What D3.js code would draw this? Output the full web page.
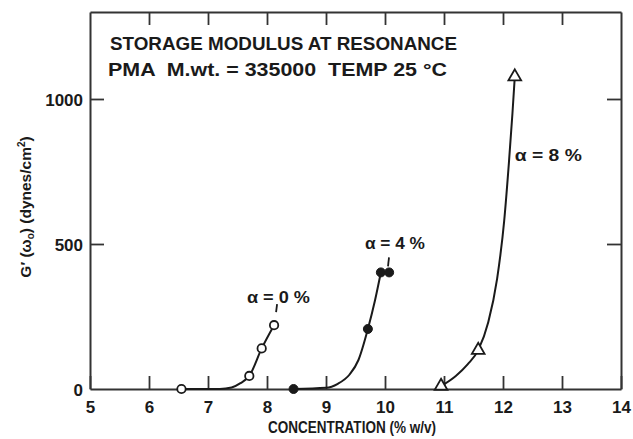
<!DOCTYPE html>
<html><head><meta charset="utf-8">
<script src="https://cdn.jsdelivr.net/npm/d3@7"></script>
<style>
body{margin:0;background:#fff;}
svg{display:block;}
text{font-family:"Liberation Sans",Arial,sans-serif;font-weight:bold;fill:#1a1a1a;}
</style></head>
<body>
<svg id="chart" width="633" height="439"></svg>
<script>
// ---- data ----
const xTicks = [5, 6, 7, 8, 9, 10, 11, 12, 13, 14];
const yTicks = [0, 500, 1000];
const yTicksRight = [500, 1000];

// measured points
const conc0 = [6.55, 7.70, 7.91, 8.12];
const g0    = [0, 45, 140, 220];
const conc4 = [8.45, 9.71, 9.93, 10.07];
const g4    = [0, 207, 402, 402];
const conc8 = [10.95, 11.58, 12.2];
const g8    = [10, 134, 1077];

// hand-drawn curves
const curve0X = [6.55, 7.2, 7.4, 7.55, 7.70, 7.91, 8.12];
const curve0Y = [0, 0, 5, 20, 45, 140, 220];
const curve4X = [8.45, 9.0, 9.2, 9.4, 9.55, 9.71, 9.83, 9.93];
const curve4Y = [0, 4, 18, 50, 100, 207, 305, 402];
const curve8X = [10.95, 11.2, 11.4, 11.58, 11.75, 11.9, 12.02, 12.1, 12.16, 12.2];
const curve8Y = [10, 45, 85, 134, 230, 380, 580, 780, 950, 1077];

const seriesLabels = ["α = 0 %", "α = 4 %", "α = 8 %"];
const labelX = [7.66, 9.66, 12.2];
const labelY = [298, 483, 785];
const titleLines = ["STORAGE MODULUS AT RESONANCE", "PMA  M.wt. = 335000  TEMP 25 °C"];
const xTitle = "CONCENTRATION (% w/v)";

// ---- layout ----
const svg = d3.select("#chart");
const L = 90, R = 621, T = 12, B = 389;
const x = d3.scaleLinear().domain([5, 14]).range([L, R]);
const y = d3.scaleLinear().domain([0, 1300]).range([B, T]);
const ink = "#1a1a1a";

// axes
const gB = svg.append("g").attr("transform", `translate(0,${B})`)
  .call(d3.axisBottom(x).tickValues(xTicks).tickFormat(d3.format("d"))
    .tickSizeInner(-13).tickSizeOuter(0).tickPadding(12));
const gT = svg.append("g").attr("transform", `translate(0,${T})`)
  .call(d3.axisTop(x).tickValues(xTicks.slice(1, -1)).tickFormat("")
    .tickSizeInner(-13).tickSizeOuter(0));
const gL = svg.append("g").attr("transform", `translate(${L},0)`)
  .call(d3.axisLeft(y).tickValues(yTicks).tickFormat(d3.format("d"))
    .tickSizeInner(-14).tickSizeOuter(0).tickPadding(7));
const gR = svg.append("g").attr("transform", `translate(${R},0)`)
  .call(d3.axisRight(y).tickValues(yTicksRight).tickFormat("")
    .tickSizeInner(-14).tickSizeOuter(0));
[gB, gT, gL, gR].forEach(g => {
  g.select(".domain").attr("stroke", "#333").attr("stroke-width", 2);
  g.selectAll(".tick line").attr("stroke", "#333").attr("stroke-width", 1.8);
  g.selectAll(".tick text").style("font-size", "17px").attr("fill", ink)
    .style("font-family", '"Liberation Sans",Arial,sans-serif').style("font-weight", "bold");
});
gL.selectAll(".tick text").attr("dy", "0.36em");
gL.selectAll(".tick").filter(d => d === 0).select("line").remove();

// curves
const line = d3.line().x(d => x(d[0])).y(d => y(d[1])).curve(d3.curveMonotoneX);
const curves = [[curve0X, curve0Y], [curve4X, curve4Y], [curve8X, curve8Y]];
curves.forEach(([cx, cy]) => {
  svg.append("path").datum(d3.zip(cx, cy)).attr("d", line)
    .attr("fill", "none").attr("stroke", ink).attr("stroke-width", 2);
});

// leader lines from labels to curves
const leaders = [[8.12, 220, 2, -13, 3, -21], [10.0, 402, 3, -6, 4, -15]];
leaders.forEach(([lx, ly, dx1, dy1, dx2, dy2]) => {
  svg.append("line").attr("x1", x(lx) + dx1).attr("y1", y(ly) + dy1)
    .attr("x2", x(lx) + dx2).attr("y2", y(ly) + dy2)
    .attr("stroke", ink).attr("stroke-width", 1.8);
});

// markers
svg.append("g").selectAll("circle").data(d3.zip(conc0, g0)).join("circle")
  .attr("cx", d => x(d[0])).attr("cy", d => y(d[1])).attr("r", 4.2)
  .attr("fill", "#fff").attr("stroke", ink).attr("stroke-width", 1.8);
svg.append("g").selectAll("circle").data(d3.zip(conc4, g4)).join("circle")
  .attr("cx", d => x(d[0])).attr("cy", d => y(d[1])).attr("r", 4.5)
  .attr("fill", ink).attr("stroke", ink).attr("stroke-width", 1);
const tri = d3.symbol().type(d3.symbolTriangle).size(70);
svg.append("g").selectAll("path").data(d3.zip(conc8, g8)).join("path")
  .attr("d", tri).attr("transform", d => `translate(${x(d[0])},${y(d[1])})`)
  .attr("fill", "#fff").attr("stroke", ink).attr("stroke-width", 1.8);

// series labels
const labW = [63, 60, 67];
seriesLabels.forEach((t, i) => {
  svg.append("text").attr("x", x(labelX[i])).attr("y", y(labelY[i]))
    .style("font-size", "16px").style("white-space", "pre")
    .attr("textLength", labW[i]).attr("lengthAdjust", "spacingAndGlyphs").text(t);
});

// title block
const tl = [[110, 50, 347], [108, 76, 339]];
titleLines.forEach((t, i) => {
  svg.append("text").attr("x", tl[i][0]).attr("y", tl[i][1])
    .style("font-size", "17.5px").style("white-space", "pre")
    .attr("textLength", tl[i][2]).attr("lengthAdjust", "spacingAndGlyphs").text(t);
});

// x title
svg.append("text").attr("x", 352).attr("y", 433).attr("text-anchor", "middle")
  .style("font-size", "16px").attr("textLength", 168).attr("lengthAdjust", "spacingAndGlyphs")
  .text(xTitle);

// y title
const yt = svg.append("text").attr("transform", "translate(31,207) rotate(-90)")
  .attr("text-anchor", "middle").style("font-size", "15.5px");
yt.append("tspan").text("G′ (ω");
yt.append("tspan").text("o").style("font-size", "10px").attr("dy", 3);
yt.append("tspan").text(") (dynes/cm").attr("dy", -3);
yt.append("tspan").text("2").style("font-size", "10px").attr("dy", -6);
yt.append("tspan").text(")").attr("dy", 6);
</script>
</body></html>
